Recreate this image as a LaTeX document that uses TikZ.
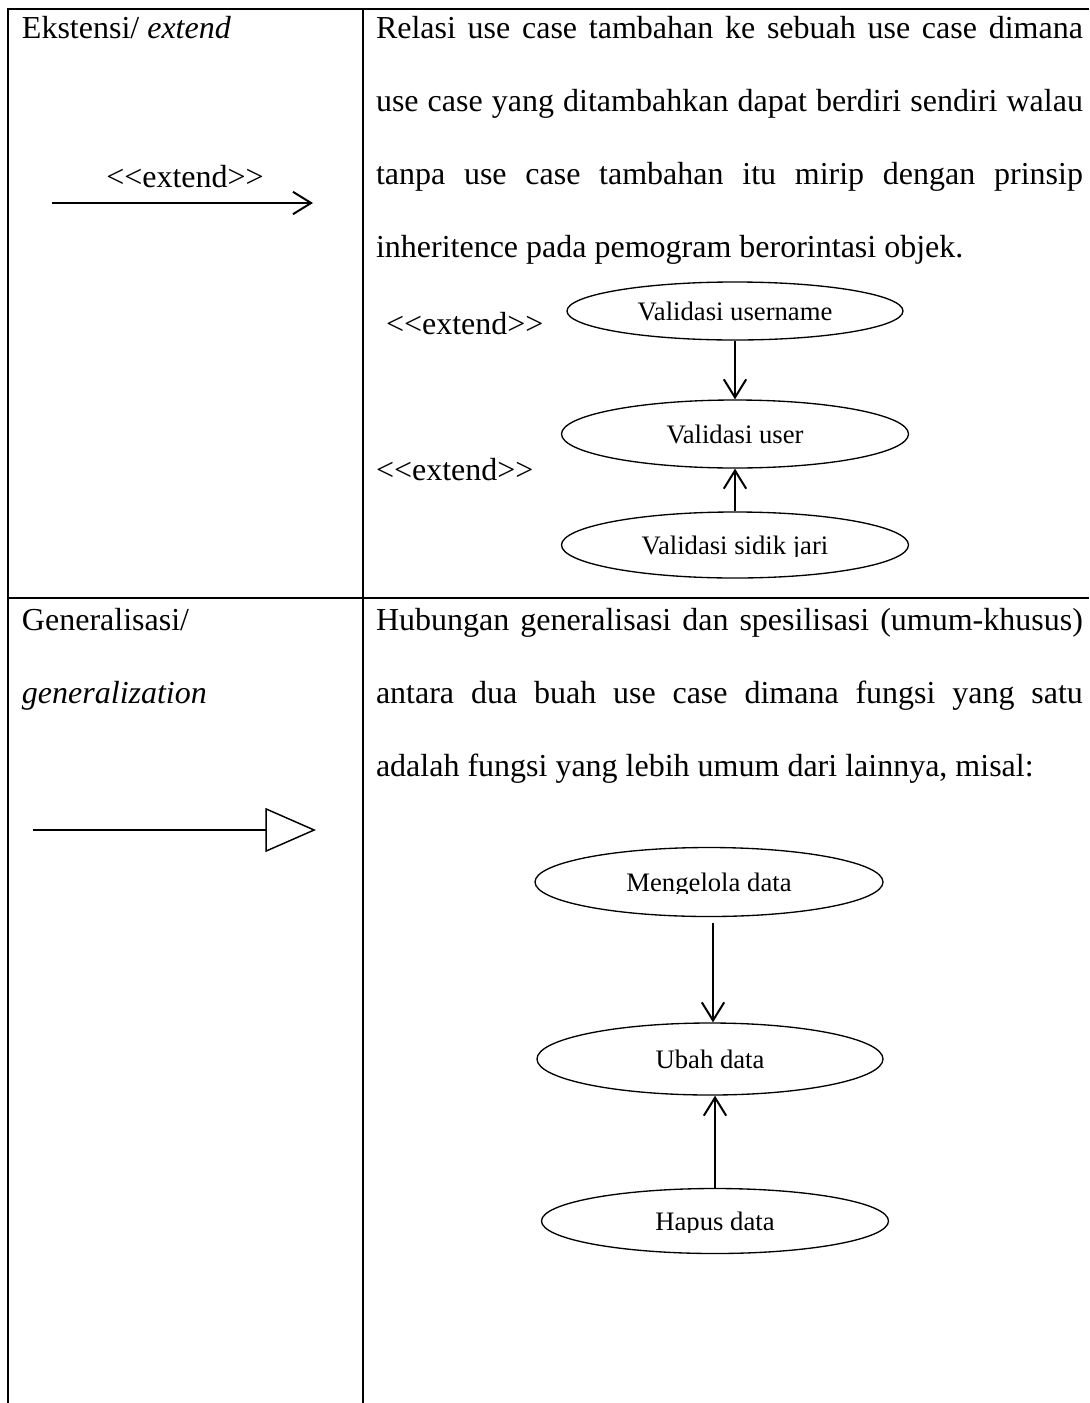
\documentclass[tikz,border=0pt]{standalone}
\usepackage{fontspec}
\setmainfont{Liberation Serif}
\usetikzlibrary{arrows.meta,shapes.geometric}

\begin{document}
\begin{tikzpicture}[x=0.375pt,y=-0.375pt,
  rule/.style={line width=0.75pt},
  body/.style={font=\fontsize{12}{14}\selectfont, inner sep=0pt, outer sep=0pt},
  usecase/.style={ellipse, draw, line width=0.5pt, inner sep=0pt},
  uctext/.style={font=\fontsize{10}{12}\selectfont, inner sep=0pt, anchor=base},
  dep/.style={line width=0.75pt, -{Straight Barb[length=6.8pt,width=8.4pt,line width=0.75pt]}},
  gen/.style={line width=0.55pt, -{Triangle[open,length=19pt,width=16.5pt,line width=0.55pt]}},
]
\useasboundingbox (0,0) rectangle (1089,1403);

% table rules
\draw[rule] (1089,8.5) -- (7.5,8.5) -- (7.5,1403);
\draw[rule] (362.5,8.5) -- (362.5,1403);
\draw[rule] (7.5,598) -- (1089,598);

% ---- row 1: extend ----
\node[body, anchor=base west] (k1) at (22,38) {Ekstensi/ \textit{extend}};
\node[body, anchor=base] (k1lbl) at (185,187) {<{}<extend>{}>};
\coordinate (k1a) at (52,203);
\coordinate (k1b) at (313,203);
\draw[dep] (k1a) -- (k1b);

\node[body, anchor=base west] (d1a) at (376,38) {\makebox[265.1pt][s]{Relasi use case tambahan ke sebuah use case dimana}};
\node[body, anchor=base west] (d1b) at (376,111) {\makebox[265.1pt][s]{use case yang ditambahkan dapat berdiri sendiri walau}};
\node[body, anchor=base west] (d1c) at (376,184) {\makebox[265.1pt][s]{tanpa use case tambahan itu mirip dengan prinsip}};
\node[body, anchor=base west] (d1d) at (376,257) {inheritence pada pemogram berorintasi objek.};

\node[body, anchor=base west] (x1) at (386,334) {<{}<extend>{}>};
\node[body, anchor=base west] (x2) at (376,480) {<{}<extend>{}>};

\node[usecase, minimum width=336*0.375pt, minimum height=58*0.375pt] (vun) at (735,311) {};
\node[uctext] (vunt) at (735,320) {Validasi username};
\node[usecase, minimum width=347*0.375pt, minimum height=68*0.375pt] (vu) at (735,434) {};
\node[uctext] (vut) at (735,443) {Validasi user};
\node[usecase, minimum width=347*0.375pt, minimum height=66*0.375pt] (vsj) at (735,545) {};
\begin{scope}
  % the label box cuts the descenders off
  \clip (600,520) rectangle (870,556);
  \node[uctext] (vsjt) at (735,554) {Validasi sidik jari};
\end{scope}

\draw[dep] (vun.south) -- (vu.north);
\draw[dep] (vsj.north) -- (vu.south);

% ---- row 2: generalization ----
\node[body, anchor=base west] (k2a) at (22,630) {Generalisasi/};
\node[body, anchor=base west] (k2b) at (22,703) {\textit{generalization}};
\coordinate (g1a) at (33,830);
\coordinate (g1b) at (316,830);
\draw[gen] (g1a) -- (g1b);

\node[body, anchor=base west] (d2a) at (376,630) {\makebox[265.1pt][s]{Hubungan generalisasi dan spesilisasi (umum-khusus)}};
\node[body, anchor=base west] (d2b) at (376,703) {\makebox[265.1pt][s]{antara dua buah use case dimana fungsi yang satu}};
\node[body, anchor=base west] (d2c) at (376,776) {adalah fungsi yang lebih umum dari lainnya, misal:};

\node[usecase, minimum width=348*0.375pt, minimum height=69*0.375pt] (mg) at (709,882) {};
\begin{scope}
  \clip (580,860) rectangle (840,893);
  \node[uctext] (mgt) at (709,891) {Mengelola data};
\end{scope}
\node[usecase, minimum width=346*0.375pt, minimum height=72*0.375pt] (ub) at (710,1059) {};
\node[uctext] (ubt) at (710,1068) {Ubah data};
\node[usecase, minimum width=347*0.375pt, minimum height=65*0.375pt] (hp) at (715,1221) {};
\begin{scope}
  \clip (600,1200) rectangle (830,1232);
  \node[uctext] (hpt) at (715,1230) {Hapus data};
\end{scope}

\draw[dep, shorten <=6*0.375pt] (mg.south -| 713,0) -- (ub.north -| 713,0);
\draw[dep] (hp.north) -- (hp.north |- ub.south);
\end{tikzpicture}
\end{document}
